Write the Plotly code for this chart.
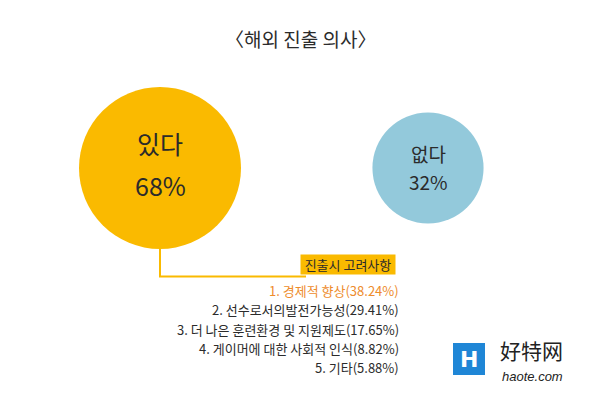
import plotly.graph_objects as go

# ---- data ----
answers = ["있다", "없다"]
shares = [68, 32]
share_labels = ["68%", "32%"]
factors = ["경제적 향상", "선수로서의발전가능성", "더 나은 훈련환경 및 지원제도",
           "게이머에 대한 사회적 인식", "기타"]
factor_shares = [38.24, 29.41, 17.65, 8.82, 5.88]
chart_title = "〈해외 진출 의사〉"
factor_title = "진출시 고려사항"

# ---- style ----
W, H = 600, 395
FONT = "Noto Sans CJK KR"
YELLOW = "#FABA00"
BLUE = "#93C9DB"
ORANGE = "#EE8C2C"
DARK = "#2b2b2b"
circle_colors = [YELLOW, BLUE]

def px(x):
    return x / W

def py(y):
    return 1 - y / H

fig = go.Figure()

big_diam = 162.0
sizeref = 2.0 * max(shares) / big_diam ** 2
fig.add_trace(go.Scatter(
    x=answers, y=[0, 0], mode="markers",
    marker=dict(size=shares, sizemode="area", sizeref=sizeref,
                color=circle_colors, line=dict(width=0), opacity=1),
    hoverinfo="skip", showlegend=False, cliponaxis=False,
))

annotations = []

def note(**kw):
    kw.setdefault("showarrow", False)
    kw.setdefault("xanchor", "center")
    kw.setdefault("yanchor", "middle")
    annotations.append(kw)

# title
note(x=0.5, y=py(39), xref="paper", yref="paper", text=chart_title,
     font=dict(family=FONT, size=19, color=DARK))

# circle labels
note(x=answers[0], y=0, xref="x", yref="y", text=answers[0], yshift=25,
     font=dict(family=FONT, size=25, color=DARK))
note(x=answers[0], y=0, xref="x", yref="y", text=share_labels[0], yshift=-17,
     font=dict(family=FONT, size=25, color=DARK))
note(x=answers[1], y=0, xref="x", yref="y", text=answers[1], yshift=15,
     font=dict(family=FONT, size=19, color=DARK))
note(x=answers[1], y=0, xref="x", yref="y", text=share_labels[1], yshift=-13,
     font=dict(family=FONT, size=19, color=DARK))

# factor box title
note(x=px(348), y=py(264), xref="paper", yref="paper", text=factor_title, bgcolor=YELLOW,
     width=92, height=17, borderpad=1, font=dict(family=FONT, size=13, color=DARK))

# factor list
row_y = [290, 309.5, 329, 348, 367]
for i, (f, v) in enumerate(zip(factors, factor_shares)):
    note(x=px(401), y=py(row_y[i]), xref="paper", yref="paper", xanchor="right",
         text=f"{i + 1}. {f}({v:.2f}%)",
         font=dict(family=FONT, size=13, color=ORANGE if i == 0 else DARK))

# watermark
note(x=px(469), y=py(359), xref="paper", yref="paper", text="<b>H</b>",
     font=dict(family="DejaVu Sans", size=22, color="white"))
note(x=px(498), y=py(350), xref="paper", yref="paper", xanchor="left", text="好特网",
     font=dict(family="Noto Sans CJK SC", size=21, color="#222"))
note(x=px(500), y=py(376), xref="paper", yref="paper", xanchor="left", text="<i>haote.com</i>",
     font=dict(family="Liberation Sans", size=13, color="#222"))

shapes = [
    dict(type="path", xref="paper", yref="paper",
         path=f"M {px(160)} {py(248)} L {px(160)} {py(276.5)} L {px(306)} {py(276.5)}",
         line=dict(color=YELLOW, width=2), layer="below"),
    dict(type="rect", xref="paper", yref="paper", x0=px(453), x1=px(485), y0=py(375), y1=py(343),
         fillcolor="#1F86D6", line=dict(width=0), layer="below"),
]

# axis ranges so category 0 sits at x=160px and category 1 at x=428px, circles at y=168px
unit = 268.0
x0 = -160.0 / unit
x1 = x0 + W / unit
y_top = 168.0 / H
fig.update_layout(
    width=W, height=H, margin=dict(l=0, r=0, t=0, b=0, pad=0, autoexpand=False),
    paper_bgcolor="white", plot_bgcolor="white",
    xaxis=dict(range=[x0, x1], visible=False, type="category", fixedrange=True),
    yaxis=dict(range=[y_top - 1, y_top], visible=False, fixedrange=True),
    annotations=annotations, shapes=shapes, showlegend=False,
)

fig.write_html("out.html")
